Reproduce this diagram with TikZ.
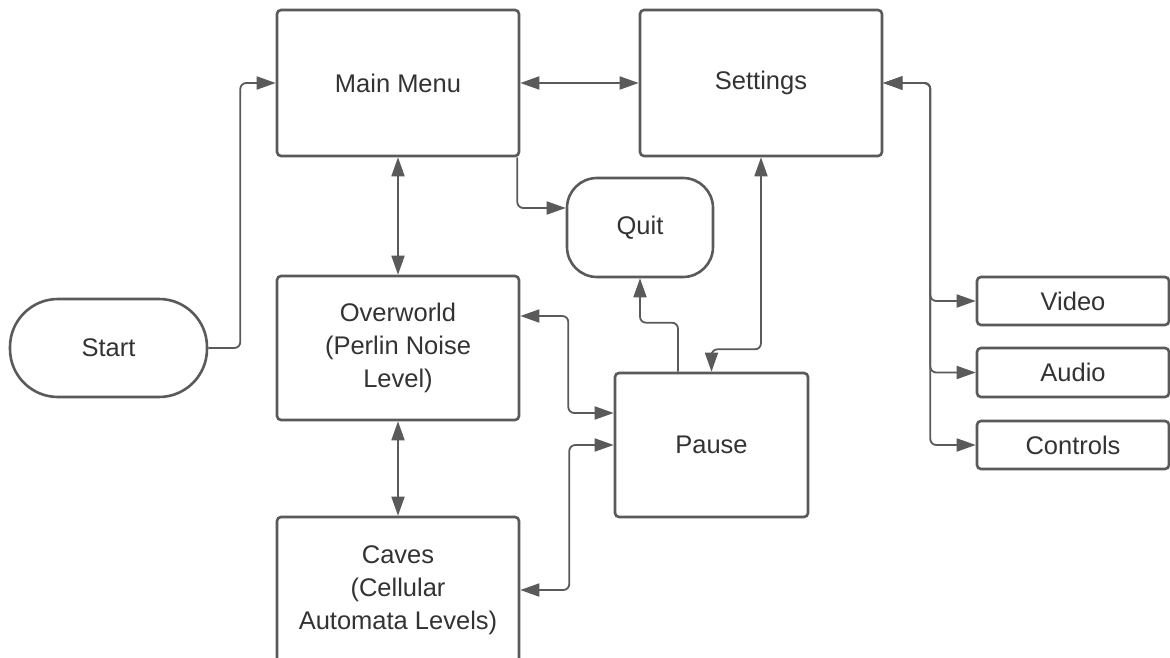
\documentclass[tikz,border=0pt]{standalone}
\usepackage{fontspec}
\setmainfont{Liberation Sans}
\usetikzlibrary{arrows.meta,calc}
\definecolor{lineC}{RGB}{90,90,90}
\definecolor{textC}{RGB}{51,51,51}
\tikzset{
  box/.style={draw=lineC, line width=2.6pt, rounded corners=4pt, fill=white,
    inner sep=0pt, align=center, text=textC,
    font=\fontsize{25.5}{33}\selectfont},
  conn/.style={draw=lineC, line width=1.8pt, rounded corners=6pt,
    arrows={-Triangle[length=19pt,width=13pt]}},
  bi/.style={conn, arrows={Triangle[length=19pt,width=13pt]-Triangle[length=19pt,width=13pt]}}
}
\begin{document}
\begin{tikzpicture}[x=1pt,y=-1pt]
\clip (0,0) rectangle (1170,658);
\fill[white] (0,0) rectangle (1170,658);

\node[box, rounded corners=48pt, minimum width=197pt, minimum height=98pt] (start) at (108.5,348) {Start};
\node[box, minimum width=242pt, minimum height=146pt] (main) at (398,83) {Main Menu};
\node[box, minimum width=242pt, minimum height=146pt] (settings) at (761,83) {Settings};
\node[box, rounded corners=30pt, minimum width=146pt, minimum height=99pt] (quit) at (640,227.5) {Quit};
\node[box, minimum width=242pt, minimum height=144pt] (over) at (398,348) {Overworld\\(Perlin Noise\\Level)};
\node[box, minimum width=193pt, minimum height=144pt] (pause) at (711.5,445) {Pause};
\node[box, minimum width=242pt, minimum height=146pt] (caves) at (398,590) {Caves\\(Cellular\\Automata Levels)};
\node[box, minimum width=192pt, minimum height=48pt] (video) at (1073,301) {Video};
\node[box, minimum width=192pt, minimum height=49pt] (audio) at (1073,372.5) {Audio};
\node[box, minimum width=192pt, minimum height=48pt] (controls) at (1073,445) {Controls};

% connectors
\draw[conn] (start.east) -- ++(32,0) |- (main.west);
\draw[bi] (main.east) -- (settings.west);
\draw[conn] ([xshift=-3pt]main.south east) |- ([yshift=19.5pt]quit.west);
\draw[bi] (main.south) -- (over.north);
\draw[bi] (over.south) -- (caves.north);
\draw[bi] ([yshift=32pt]over.east) -- ++(48,0) |- ([yshift=32pt]pause.west);
\draw[bi] (caves.east) -- ++(49,0) |- (pause.west);
\draw[conn] ([xshift=-33.5pt]pause.north) -- ++(0,-49) -| (quit.south);
\draw[bi] (settings.south) -- ++(0,192) -| (pause.north);
\draw[bi] (settings.east) -- ++(47,0) |- (video.west);
\draw[bi] (settings.east) -- ++(47,0) |- (audio.west);
\draw[bi] (settings.east) -- ++(47,0) |- (controls.west);
\end{tikzpicture}
\end{document}
